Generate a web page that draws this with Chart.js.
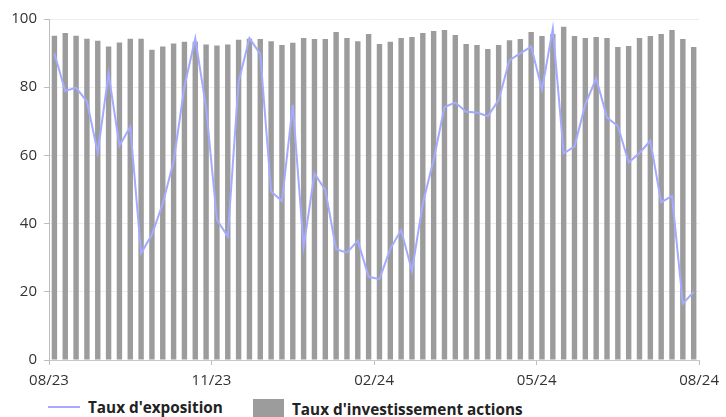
<!DOCTYPE html>
<html>
<head>
<meta charset="utf-8">
<script src="https://cdn.jsdelivr.net/npm/chart.js@4/dist/chart.umd.min.js"></script>
<style>
  html, body { margin: 0; padding: 0; background: #fff; }
  #wrap { position: relative; width: 726px; height: 417px; overflow: hidden; font-family: "Open Sans", sans-serif; }
  #c { position: absolute; left: 0; top: 0; }
  .leg { position: absolute; font-weight: bold; font-size: 15.3px; color: #222; white-space: nowrap; line-height: 18px; }
  .sym-line { position: absolute; left: 48px; top: 406px; width: 32px; height: 2px; background: #a4aaff; }
  .sym-box { position: absolute; left: 253px; top: 399px; width: 31px; height: 18px; background: #9c9c9c; }
</style>
</head>
<body>
<div id="wrap">
  <canvas id="c" width="726" height="392"></canvas>
  <div class="sym-line"></div>
  <div class="leg" id="leg1" style="left:88px; top:398px;">Taux d'exposition</div>
  <div class="sym-box"></div>
  <div class="leg" id="leg2" style="left:292px; top:400px;">Taux d'investissement actions</div>
</div>
<script>
const tickLabels = ['08/23', '11/23', '02/24', '05/24', '08/24'];
const yTicks = [0, 20, 40, 60, 80, 100];

const investissement = [
  95.1, 95.9, 95.1, 94.2, 93.6, 91.9, 93.1, 94.2, 94.2, 91.0,
  91.9, 92.8, 93.3, 93.3, 92.5, 92.2, 92.5, 93.9, 94.2, 94.1,
  93.5, 92.4, 93.0, 94.4, 94.1, 94.1, 96.2, 94.4, 93.5, 95.6,
  92.7, 93.3, 94.4, 94.7, 95.9, 96.5, 96.8, 95.3, 92.7, 92.4,
  91.2, 92.4, 93.8, 94.1, 96.2, 95.0, 95.6, 97.7, 95.0, 94.4,
  94.7, 94.4, 91.8, 92.1, 94.4, 95.0, 95.6, 96.8, 94.1, 91.8
];

const exposition = [
  89.9, 78.9, 79.9, 75.8, 60.8, 84.0, 62.8, 68.4, 31.3, 36.8,
  45.9, 58.2, 80.2, 94.3, 74.0, 41.1, 36.2, 81.6, 94.4, 89.7,
  49.4, 46.6, 74.8, 33.2, 54.6, 49.9, 32.5, 31.5, 35.0, 24.4,
  23.7, 32.6, 38.1, 26.1, 45.9, 58.7, 74.2, 75.5, 72.8, 72.6,
  71.5, 76.2, 87.9, 89.9, 91.9, 79.3, 97.2, 60.6, 62.6, 75.0,
  82.6, 71.1, 68.6, 57.9, 60.7, 64.3, 46.2, 48.1, 16.5, 20.0
];

const nPeriods = investissement.length;
const ticksPerLabel = nPeriods / (tickLabels.length - 1);

const toPoints = arr => arr.map((v, i) => ({ x: i + 0.5, y: v }));

const FONT = { family: "'Open Sans', sans-serif", size: 15 };

new Chart(document.getElementById('c'), {
  type: 'bar',
  data: {
    datasets: [
      {
        type: 'line',
        label: "Taux d'exposition",
        data: toPoints(exposition),
        borderColor: '#a4aaff',
        borderWidth: 2,
        pointRadius: 0,
        tension: 0,
        fill: false
      },
      {
        type: 'bar',
        label: "Taux d'investissement actions",
        data: toPoints(investissement),
        backgroundColor: '#9c9c9c',
        barPercentage: 0.5,
        categoryPercentage: 1.0
      }
    ]
  },
  options: {
    responsive: false,
    animation: false,
    layout: { padding: { left: 0, right: 24, top: 19, bottom: 0 } },
    plugins: {
      legend: { display: false },
      tooltip: { enabled: false }
    },
    scales: {
      x: {
        type: 'linear',
        offset: false,
        min: 0,
        max: nPeriods,
        afterBuildTicks: s => { s.ticks = tickLabels.map((_, k) => ({ value: k * ticksPerLabel })); },
        ticks: {
          font: FONT,
          color: '#333',
          padding: 7,
          maxRotation: 0,
          autoSkip: false,
          callback: (v) => tickLabels[Math.round(v / ticksPerLabel)]
        },
        grid: { offset: false, drawOnChartArea: false, tickLength: 5, tickColor: '#bdbdbd' },
        border: { color: '#c8c8c8' },
        afterFit: s => { s.height = 32; }
      },
      y: {
        min: 0,
        max: 100,
        afterBuildTicks: s => { s.ticks = yTicks.map(v => ({ value: v })); },
        ticks: { font: FONT, color: '#333', padding: 7 },
        grid: { color: '#ededed', tickLength: 5, tickColor: '#bdbdbd' },
        border: { color: '#bdbdbd' },
        afterFit: s => { s.width = 49; }
      }
    }
  }
});
</script>
</body>
</html>
